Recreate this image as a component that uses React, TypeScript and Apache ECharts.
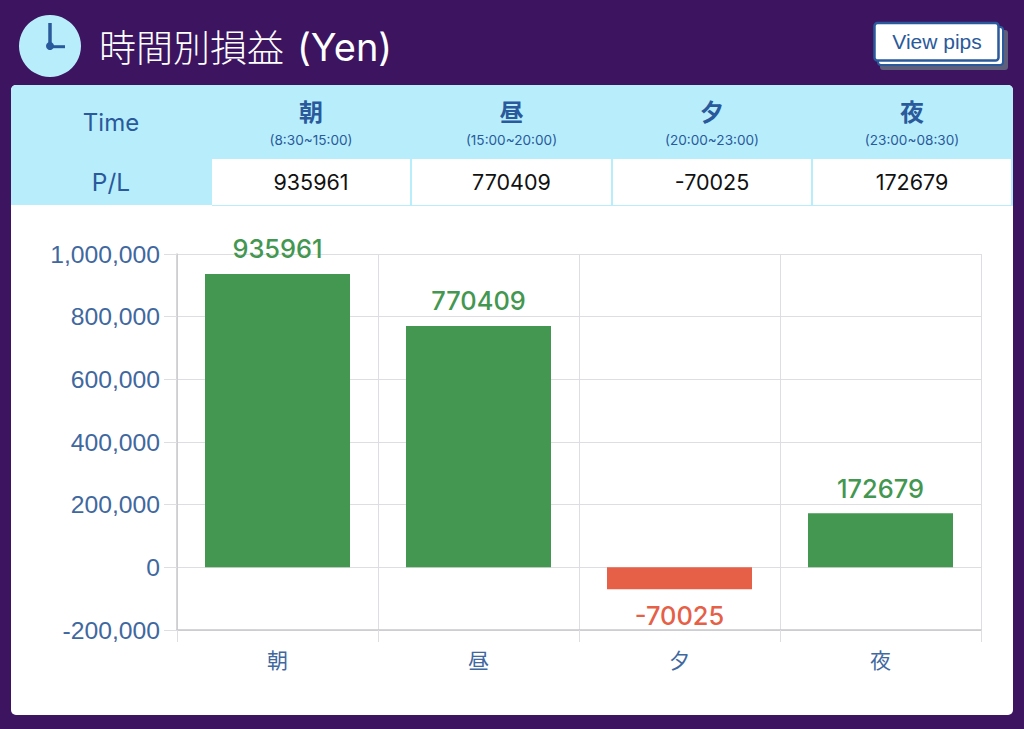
import React, { useEffect, useRef } from "react";
import * as echarts from "echarts";

const categories = ["朝", "昼", "夕", "夜"];
const timeRanges = ["(8:30~15:00)", "(15:00~20:00)", "(20:00~23:00)", "(23:00~08:30)"];
const profitLoss = [935961, 770409, -70025, 172679];
const tableValues = ["935961", "770409", "-70025", "172679"];

const PURPLE = "#3c1460";
const SKY = "#b8eefb";
const NAVY = "#2a5a9b";
const GREEN = "#439750";
const RED = "#e56047";
const AXIS_BLUE = "#3f689f";
const UI = "Inter, 'Noto Sans CJK JP', sans-serif";

const colLeft = [212, 412, 613, 813];
const colWidth = [198, 199, 198, 198];

function buildGraphics() {
  const g: any[] = [
    { type: "rect", z: 0, shape: { x: 11, y: 85, width: 1002, height: 630, r: 5 }, style: { fill: "#ffffff" } },
    { type: "rect", z: 1, shape: { x: 11, y: 85, width: 1002, height: 120, r: [5, 5, 0, 0] }, style: { fill: SKY } },
    { type: "rect", z: 1, shape: { x: 212, y: 205, width: 801, height: 1 }, style: { fill: SKY } },
    { type: "circle", z: 2, shape: { cx: 50, cy: 46, r: 31 }, style: { fill: SKY } },
    { type: "line", z: 3, shape: { x1: 50, y1: 23, x2: 50, y2: 46 }, style: { stroke: NAVY, lineWidth: 3.5 } },
    { type: "line", z: 3, shape: { x1: 50, y1: 46.7, x2: 65, y2: 46.7 }, style: { stroke: NAVY, lineWidth: 3 } },
    { type: "circle", z: 3, shape: { cx: 50, cy: 46, r: 4 }, style: { fill: NAVY } },
    { type: "text", z: 3, x: 99, y: 46, style: { text: "時間別損益", fill: "#ffffff", font: `300 37px 'Noto Sans CJK JP', sans-serif`, textAlign: "left", textVerticalAlign: "middle" } },
    { type: "text", z: 3, x: 297, y: 47, style: { text: "(Yen)", fill: "#ffffff", font: `400 38px ${UI}`, textAlign: "left", textVerticalAlign: "middle" } },
    { type: "rect", z: 2, shape: { x: 880, y: 30, width: 128, height: 40, r: 3 }, style: { fill: "#5f5f7c" } },
    { type: "rect", z: 3, shape: { x: 878, y: 27, width: 125, height: 38, r: 3 }, style: { fill: "#ffffff", stroke: NAVY, lineWidth: 2 } },
    { type: "rect", z: 4, shape: { x: 874.5, y: 23, width: 124, height: 37.5, r: 3 }, style: { fill: "#ffffff", stroke: NAVY, lineWidth: 2.5 } },
    { type: "text", z: 5, x: 937, y: 41, style: { text: "View pips", fill: NAVY, font: "21px 'Liberation Sans', sans-serif", textAlign: "center", textVerticalAlign: "middle" } },
    { type: "text", z: 3, x: 111, y: 122, style: { text: "Time", fill: NAVY, font: `24px ${UI}`, textAlign: "center", textVerticalAlign: "middle" } },
    { type: "text", z: 3, x: 111, y: 182, style: { text: "P/L", fill: NAVY, font: `24.5px ${UI}`, textAlign: "center", textVerticalAlign: "middle" } },
  ];
  categories.forEach((c, i) => {
    const cx = colLeft[i] + colWidth[i] / 2;
    g.push(
      { type: "rect", z: 2, shape: { x: colLeft[i], y: 159, width: colWidth[i], height: 46 }, style: { fill: "#ffffff" } },
      { type: "text", z: 3, x: cx, y: 110.5, style: { text: c, fill: NAVY, font: "bold 24px 'Noto Sans CJK JP', sans-serif", textAlign: "center", textVerticalAlign: "middle" } },
      { type: "text", z: 3, x: cx, y: 140, style: { text: timeRanges[i], fill: NAVY, font: `13.6px ${UI}`, textAlign: "center", textVerticalAlign: "middle" } },
      { type: "text", z: 3, x: cx, y: 182, style: { text: tableValues[i], fill: "#111111", font: `21.5px ${UI}`, textAlign: "center", textVerticalAlign: "middle" } },
    );
  });
  return g;
}

export default function App() {
  const ref = useRef<HTMLDivElement>(null);
  useEffect(() => {
    document.body.style.margin = "0";
    document.body.style.background = PURPLE;
    const chart = echarts.init(ref.current!, null, { renderer: "svg" });
    chart.setOption({
      animation: false,
      backgroundColor: PURPLE,
      grid: { left: 177, right: 43, top: 254, bottom: 99, containLabel: false },
      graphic: { elements: buildGraphics() },
      xAxis: {
        type: "category",
        data: categories,
        position: "bottom",
        axisLine: { onZero: false, lineStyle: { color: "#c8c8cc", width: 1.5 } },
        axisTick: { show: true, length: 12, alignWithLabel: false, lineStyle: { color: "#dedee2" } },
        axisLabel: { color: AXIS_BLUE, fontSize: 21, margin: 18, fontFamily: "'Noto Sans CJK JP', sans-serif" },
        splitLine: { show: true, lineStyle: { color: "#dedee2", width: 1 } },
      },
      yAxis: {
        type: "value",
        min: -200000,
        max: 1000000,
        interval: 200000,
        axisLine: { show: true, lineStyle: { color: "#c8c8cc", width: 1.5 } },
        axisTick: { show: true, length: 13, lineStyle: { color: "#dedee2" } },
        axisLabel: {
          color: AXIS_BLUE,
          fontSize: 24.7,
          margin: 17,
          fontFamily: "'Liberation Sans', sans-serif",
          formatter: (v: number) => v.toLocaleString("en-US"),
        },
        splitLine: { show: true, lineStyle: { color: "#dedee2", width: 1 } },
      },
      series: [
        {
          type: "bar",
          barWidth: 145,
          data: profitLoss.map((v) => ({
            value: v,
            itemStyle: { color: v >= 0 ? GREEN : RED },
            label: { color: v >= 0 ? GREEN : RED, position: v >= 0 ? "top" : "bottom", distance: v >= 0 ? 12.5 : 13.5 },
          })),
          label: {
            show: true,
            fontSize: 25.4,
            fontWeight: 500,
            fontFamily: UI,
            formatter: (p: any) => String(p.value),
          },
        },
      ],
    });
    return () => chart.dispose();
  }, []);
  return <div ref={ref} style={{ position: "absolute", left: 0, top: 0, width: 1024, height: 729 }} />;
}
